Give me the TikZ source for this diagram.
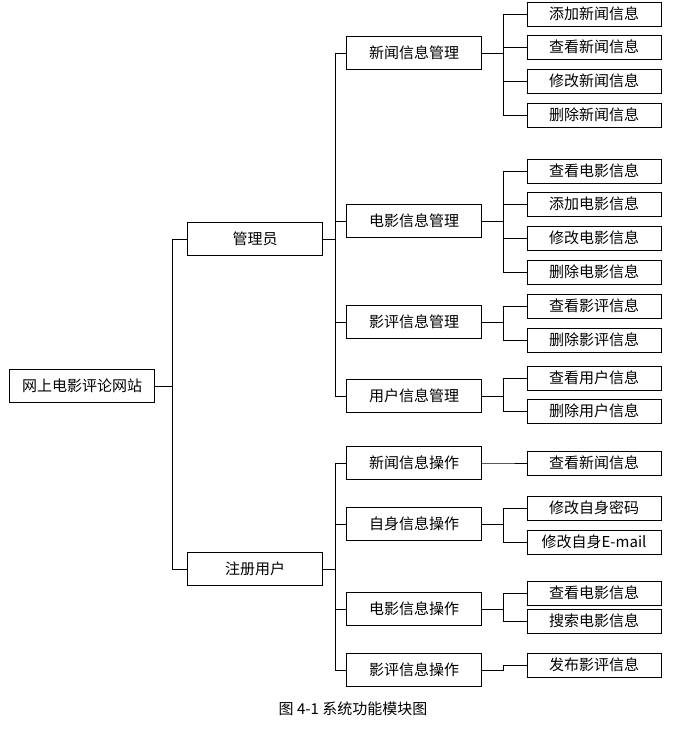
\documentclass[tikz,border=0pt]{standalone}
\usepackage{fontspec}
\setmainfont{Liberation Serif}
\newfontfamily\cjk{Noto Sans CJK SC}
\usetikzlibrary{positioning}

\tikzset{
	box/.style={draw, thick, minimum height=33pt, minimum width=135pt, inner sep=0pt, font=\cjk\fontsize{15}{17}\selectfont},
	leaf/.style={draw, thick, minimum height=24pt, minimum width=134pt, inner sep=0pt, font=\cjk\fontsize{15}{17}\selectfont},
	link/.style={thin}
}

\begin{document}
\begin{tikzpicture}[x=1pt,y=-1pt]
	\useasboundingbox (0,0) rectangle (686,743);

	\node[box, minimum width=145pt] (site) at (82,386) {网上电影评论网站};

	\node[box] (admin) at (255,239) {管理员};
	\node[box] (user) at (255,569) {注册用户};

	\node[box] (news) at (414,53) {新闻信息管理};
	\node[box] (movie) at (414,221) {电影信息管理};
	\node[box] (review) at (414,322) {影评信息管理};
	\node[box] (member) at (414,396) {用户信息管理};
	\node[box] (newsop) at (414,463) {新闻信息操作};
	\node[box] (selfop) at (414,524) {自身信息操作};
	\node[box] (movieop) at (414,609) {电影信息操作};
	\node[box] (reviewop) at (414,670) {影评信息操作};

	\node[leaf] (n1) at (594,14) {添加新闻信息};
	\node[leaf] (n2) at (594,47) {查看新闻信息};
	\node[leaf] (n3) at (594,81) {修改新闻信息};
	\node[leaf] (n4) at (594,115) {删除新闻信息};
	\node[leaf] (m1) at (594,171) {查看电影信息};
	\node[leaf] (m2) at (594,204) {添加电影信息};
	\node[leaf] (m3) at (594,238) {修改电影信息};
	\node[leaf] (m4) at (594,272) {删除电影信息};
	\node[leaf] (r1) at (594,306) {查看影评信息};
	\node[leaf] (r2) at (594,340) {删除影评信息};
	\node[leaf] (u1) at (594,378) {查看用户信息};
	\node[leaf] (u2) at (594,411) {删除用户信息};
	\node[leaf] (o1) at (594,463) {查看新闻信息};
	\node[leaf] (s1) at (594,508) {修改自身密码};
	\node[leaf] (s2) at (594,542) {修改自身E-mail};
	\node[leaf] (v1) at (594,593) {查看电影信息};
	\node[leaf] (v2) at (594,621) {搜索电影信息};
	\node[leaf] (w1) at (594,665) {发布影评信息};

	\node[font=\cjk\fontsize{15}{17}\selectfont] (caption) at (353,709) {图 4-1 系统功能模块图};

	% connectors
	\foreach \a/\b in {site/admin, site/user}
		\draw[link] (\a.east) -- ++(17,0) |- (\b.west);
	\foreach \a/\b in {admin/news, admin/movie, admin/review, admin/member,
		user/newsop, user/selfop, user/movieop, user/reviewop}
		\draw[link] (\a.east) -- ++(12,0) |- (\b.west);
	\foreach \a/\b in {news/n1, news/n2, news/n3, news/n4, movie/m1, movie/m2, movie/m3, movie/m4,
		review/r1, review/r2, member/u1, member/u2, newsop/o1, selfop/s1, selfop/s2,
		movieop/v1, movieop/v2, reviewop/w1}
		\draw[link] (\a.east) -- ++(21,0) |- (\b.west);
\end{tikzpicture}
\end{document}
